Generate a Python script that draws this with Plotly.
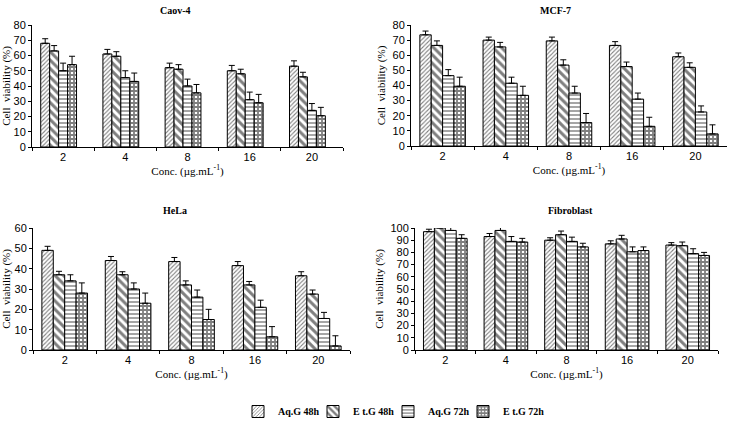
import plotly.graph_objects as go
from plotly.subplots import make_subplots

conc = ["2", "4", "8", "16", "20"]
series = ["Aq.G 48h", "E t.G 48h", "Aq.G 72h", "E t.G 72h"]

caov_vals = [[68, 61, 52, 50, 53], [63, 59.5, 51, 48, 46], [50, 45.5, 40, 31, 24], [54, 43, 35.5, 29, 20.5]]
caov_err = [[3, 3, 3, 3.5, 3.5], [3.5, 3, 3, 3, 3], [5, 4.5, 4.5, 5, 4.5], [5.5, 5.5, 5.5, 5.5, 5.5]]

mcf_vals = [[73.5, 70, 69.5, 66.5, 59], [66.5, 65.5, 53.5, 52.5, 52], [46.5, 41.5, 35, 31, 22.5], [39.5, 33.5, 15.5, 13, 8]]
mcf_err = [[2.5, 2, 2.5, 2.5, 2.5], [3, 3, 3.5, 3, 3], [4, 4, 4.5, 4, 4], [6, 6, 6, 6, 6]]

hela_vals = [[49, 44, 43.5, 41.5, 36.5], [37, 37, 32, 32, 27.5], [34, 30, 26, 21, 15.5], [28, 23, 15, 6.5, 2]]
hela_err = [[2, 2, 2, 2, 2], [1.7, 1.5, 2, 1.7, 2], [3, 3, 3.5, 3.5, 3], [5, 5, 5, 5, 5]]

fib_vals = [[97, 93, 90, 87, 86], [100, 98, 94.5, 91, 85.5], [98, 89, 89, 80.5, 79], [91.5, 88.5, 84.5, 81.5, 77.5]]
fib_err = [[2, 2.5, 2, 2.5, 2], [1, 2.5, 3, 3, 3], [2.5, 4, 3.5, 4, 4], [3, 3, 3, 3, 2.5]]

panels = [
    ("Caov-4", caov_vals, caov_err, 80, 10),
    ("MCF-7", mcf_vals, mcf_err, 80, 10),
    ("HeLa", hela_vals, hela_err, 60, 10),
    ("Fibroblast", fib_vals, fib_err, 100, 10),
]

patterns = [
    dict(shape="/", fgcolor="black", bgcolor="white", size=3, solidity=0.35),
    dict(shape="\\", fgcolor="black", bgcolor="white", size=6, solidity=0.5),
    dict(shape="-", fgcolor="black", bgcolor="white", size=4, solidity=0.35),
    dict(shape="+", fgcolor="black", bgcolor="white", size=4, solidity=0.7),
]

fig = make_subplots(rows=2, cols=2)

for idx, (name, vals, errs, ymax, dt) in enumerate(panels):
    r = idx // 2 + 1
    c = idx % 2 + 1
    for s in range(4):
        fig.add_trace(go.Bar(
            x=conc, y=vals[s], name=series[s],
            showlegend=(idx == 0),
            legendgroup=series[s],
            marker=dict(color="white", line=dict(color="black", width=1), pattern=patterns[s]),
            error_y=dict(type="data", array=errs[s], arrayminus=[0] * 5, symmetric=False,
                         color="black", thickness=1, width=3),
        ), row=r, col=c)

# invisible spacer entry so the compact legend does not clip its last label
fig.add_trace(go.Bar(x=[None], y=[None], name=" ", showlegend=True, hoverinfo="skip",
                     marker=dict(color="rgba(0,0,0,0)", line=dict(width=0))), row=1, col=1)

fig.update_layout(
    width=731, height=426,
    margin=dict(l=0, r=0, t=0, b=0, autoexpand=False),
    paper_bgcolor="white", plot_bgcolor="white",
    barmode="group", bargap=0.28, bargroupgap=0.0,
    font=dict(family="Liberation Serif", size=11, color="black"),
    legend=dict(orientation="h", x=238 / 731, xanchor="left", y=0.0, yanchor="bottom",
                font=dict(family="Liberation Serif", size=10, color="black", weight="bold"),
                itemwidth=30, entrywidth=30, entrywidthmode="pixels", traceorder="normal",
                bgcolor="rgba(0,0,0,0)"),
)

domains = [
    ([32 / 731, 343 / 731], [1 - 147 / 426, 1 - 25 / 426]),
    ([411 / 731, 727 / 731], [1 - 146 / 426, 1 - 25 / 426]),
    ([33 / 731, 350 / 731], [1 - 350 / 426, 1 - 228 / 426]),
    ([415 / 731, 718 / 731], [1 - 350 / 426, 1 - 228 / 426]),
]
title_pos = [(175, 10), (555, 10), (175, 210), (570, 210)]

for idx, (name, vals, errs, ymax, dt) in enumerate(panels):
    r = idx // 2 + 1
    c = idx % 2 + 1
    xd, yd = domains[idx]
    fig.update_xaxes(domain=xd, row=r, col=c, showline=True, linecolor="black", linewidth=1,
                     ticks="outside", tickson="boundaries", ticklen=3, tickcolor="black",
                     showgrid=False, automargin=False,
                     tickfont=dict(family="Liberation Sans", size=11),
                     title=dict(text="Conc. (µg.mL<sup>-1</sup>)", standoff=4,
                                font=dict(family="Liberation Serif", size=11)))
    fig.update_yaxes(domain=yd, row=r, col=c, range=[0, ymax], dtick=dt, showline=True,
                     linecolor="black", linewidth=1, ticks="outside", ticklen=3, tickcolor="black",
                     showgrid=False, zeroline=False, automargin=False,
                     tickfont=dict(family="Liberation Sans", size=11),
                     title=dict(text="Cell  viability (%)", standoff=4,
                                font=dict(family="Liberation Serif", size=11)))
    tx, ty = title_pos[idx]
    fig.add_annotation(text="<b>%s</b>" % name, x=tx / 731, y=1 - ty / 426, xref="paper", yref="paper",
                       showarrow=False, font=dict(family="Liberation Serif", size=10, color="black"),
                       xanchor="center", yanchor="middle")

fig.write_html("out.html", post_script="document.body.style.margin='0';",
               config={"displayModeBar": False})
